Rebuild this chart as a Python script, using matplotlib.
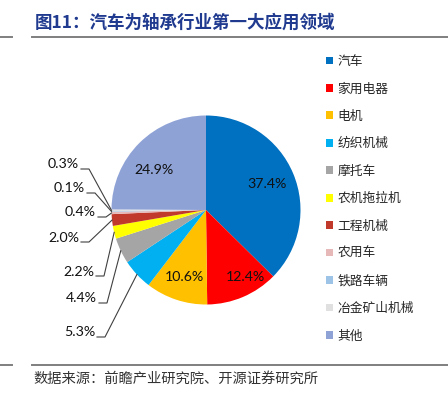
import matplotlib
matplotlib.use("Agg")
import matplotlib.pyplot as plt
import numpy as np

# ---- data ----
categories = ["汽车", "家用电器", "电机", "纺织机械", "摩托车", "农机拖拉机",
              "工程机械", "农用车", "铁路车辆", "冶金矿山机械", "其他"]
shares = [37.4, 12.4, 10.6, 5.3, 4.4, 2.2, 2.0, 0.4, 0.1, 0.3, 24.9]
colors = ["#0070C0", "#FF0000", "#FFC000", "#00B0F0", "#A5A5A5", "#FFFF00",
          "#C0392B", "#E6B9B8", "#9DC3E6", "#E0E0E0", "#8EA2D6"]
title = "图11：汽车为轴承行业第一大应用领域"
source = "数据来源：前瞻产业研究院、开源证券研究所"

W, H = 448, 397
fig = plt.figure(figsize=(W / 100, H / 100), dpi=100)
ax = fig.add_axes([0, 0, 1, 1])
ax.set_xlim(0, W)
ax.set_ylim(0, H)
ax.set_aspect("equal")
ax.axis("off")

def Y(y):
    return H - y

cx, cy, r = 206, 210, 94.5
wedges, _ = ax.pie(shares, colors=colors, startangle=90, counterclock=False,
                   center=(cx, Y(cy)), radius=r, frame=True,
                   wedgeprops=dict(linewidth=0))
ax.set_xlim(0, W)
ax.set_ylim(0, H)
ax.axis("off")

num_font = ["Lato", "DejaVu Sans"]
# inside labels (index -> pixel position)
inside = {0: (267, 184), 1: (245, 277), 2: (184, 277), 10: (154, 170)}
for i, (x, y) in inside.items():
    ax.text(x, Y(y), f"{shares[i]:.1f}%", ha="center", va="center",
            fontsize=10.2, family=num_font, color="#111111")

# outside labels: index -> (text right end x, baseline y)
outside = {9: (79, 169), 8: (85, 193), 7: (96, 217), 6: (79, 242),
           5: (94, 276), 4: (97, 303), 3: (95, 337)}
for i, (x, y) in outside.items():
    w = wedges[i]
    ang = np.deg2rad((w.theta1 + w.theta2) / 2)
    ex = w.center[0] + w.r * np.cos(ang)
    ey = w.center[1] + w.r * np.sin(ang)
    ax.text(x, Y(y) + 0.5, f"{shares[i]:.1f}%", ha="right", va="baseline",
            fontsize=10.2, family=num_font, color="#111111")
    ax.plot([x + 2, x + 10, ex], [Y(y), Y(y), ey], color="#404040", lw=0.8,
            solid_joinstyle="miter")

cjk = ["Noto Sans CJK SC", "DejaVu Sans"]
# title
ax.text(35, Y(23), title, ha="left", va="center", fontsize=12.6,
        fontweight="bold", family=cjk, color="#1F3A8F")
# rules
for yy in (36.5, 365):
    ax.plot([32, W], [Y(yy), Y(yy)], color="#7F7F7F", lw=1.4)
    ax.plot([0, 12], [Y(yy), Y(yy)], color="#7F7F7F", lw=1.4)
# source
ax.text(33, Y(379), source, ha="left", va="center", fontsize=10.3,
        family=cjk, color="#333333")

leg = ax.legend(wedges, categories, loc="upper left",
                bbox_to_anchor=(326 / W, 1 - 55 / H), bbox_transform=fig.transFigure,
                frameon=False, borderpad=0, borderaxespad=0,
                handlelength=0.56, handleheight=0.56, handletextpad=0.35,
                labelspacing=1.13, prop=dict(family=cjk, size=9.2))
for t in leg.get_texts():
    t.set_color("#262626")

fig.savefig("out.png", dpi=100)
